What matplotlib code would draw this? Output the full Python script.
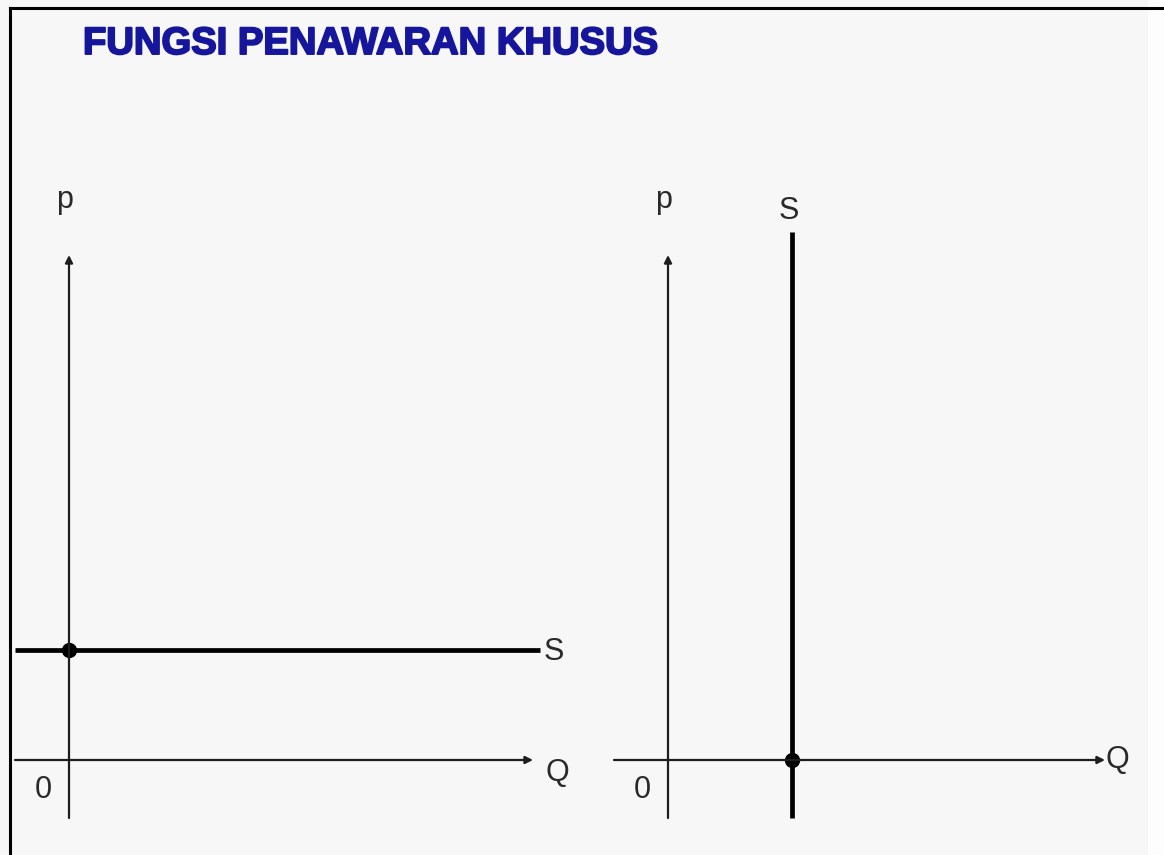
import matplotlib
matplotlib.use("Agg")
import matplotlib.pyplot as plt
from matplotlib.lines import Line2D
from matplotlib.patches import Rectangle
import matplotlib.patheffects as pe

# ---- data ----
title = "FUNGSI PENAWARAN KHUSUS"
axis_labels = {"y": "p", "x": "Q", "origin": "0", "supply": "S"}
# left panel: perfectly elastic supply (horizontal) at price level
left_supply_price = 2.2
left_supply_q_range = [-1.08, 9.42]
# right panel: perfectly inelastic supply (vertical) at quantity level
right_supply_qty = 2.48
right_supply_p_range = [-1.16, 10.56]
# axis extents
left_q_axis = [-1.08, 9.28]
right_q_axis = [-1.08, 8.74]
p_axis = [-1.16, 10.1]

W, H = 1164, 855
fig = plt.figure(figsize=(W / 100, H / 100), dpi=100)
fig.patch.set_facecolor("#fdfdfd")
fig.patches.append(Rectangle((0, 0), 1148 / W, 1, transform=fig.transFigure,
                             facecolor="#f7f7f7", edgecolor="none", zorder=-5))
# frame (top and left edges)
fig.lines.append(Line2D([10.5 / W, 1], [1 - 8 / H, 1 - 8 / H], transform=fig.transFigure,
                        color="black", lw=2.2, zorder=-4))
fig.lines.append(Line2D([10.5 / W, 10.5 / W], [0, 1 - 8 / H], transform=fig.transFigure,
                        color="black", lw=2.2, zorder=-4))

fig.text(83 / W, 1 - 44 / H, title, fontsize=27.5, fontweight="bold",
         color="#16169c", family="Liberation Sans", va="center", ha="left",
         path_effects=[pe.withStroke(linewidth=1.4, foreground="#16169c")])

axis_col = "#1e1e1e"
text_col = "#2a2a2a"
tfs = 22
scale = 50.0  # px per data unit


def make_ax(px0, px1, origin_x):
    py0, py1 = 150, 855
    ax = fig.add_axes([px0 / W, 1 - py1 / H, (px1 - px0) / W, (py1 - py0) / H])
    ax.set_xlim((px0 - origin_x) / scale, (px1 - origin_x) / scale)
    ax.set_ylim((760 - py1) / scale, (760 - py0) / scale)
    ax.axis("off")
    ax.patch.set_alpha(0)
    return ax


def draw_axes(ax, q_axis):
    # vertical price axis with arrow
    ax.annotate("", xy=(0, p_axis[1]), xytext=(0, p_axis[0]),
                arrowprops=dict(arrowstyle="-|>", lw=1.6, color=axis_col,
                                mutation_scale=11, shrinkA=0, shrinkB=0))
    ax.annotate("", xy=(q_axis[1], 0), xytext=(q_axis[0], 0),
                arrowprops=dict(arrowstyle="-|>", lw=1.6, color=axis_col,
                                mutation_scale=11, shrinkA=0, shrinkB=0))
    ax.text(-0.52, -0.6, axis_labels["origin"], fontsize=tfs, color=text_col,
            ha="center", va="center", family="Liberation Sans")
    ax.text(-0.08, p_axis[1] + 1.1, axis_labels["y"], fontsize=tfs, color=text_col,
            ha="center", va="center", family="Liberation Sans")


# left panel
axL = make_ax(0, 600, 69)
draw_axes(axL, left_q_axis)
axL.plot(left_supply_q_range, [left_supply_price, left_supply_price],
         color="black", lw=3.4, solid_capstyle="butt")
axL.plot([0], [left_supply_price], "o", color="black", ms=10)
axL.text(left_supply_q_range[1] + 0.28, left_supply_price - 0.05, axis_labels["supply"],
         fontsize=tfs, color=text_col, ha="center", va="center", family="Liberation Sans")
axL.text(left_q_axis[1] + 0.48, -0.26, axis_labels["x"], fontsize=tfs, color=text_col,
         ha="center", va="center", family="Liberation Sans")

# right panel
axR = make_ax(600, 1164, 668)
draw_axes(axR, right_q_axis)
axR.plot([right_supply_qty, right_supply_qty], right_supply_p_range,
         color="black", lw=3.4, solid_capstyle="butt")
axR.plot([right_supply_qty], [0], "o", color="black", ms=10)
axR.text(right_supply_qty - 0.06, right_supply_p_range[1] + 0.42, axis_labels["supply"],
         fontsize=tfs, color=text_col, ha="center", va="center", family="Liberation Sans")
axR.text(right_q_axis[1] + 0.25, 0.0, axis_labels["x"], fontsize=tfs, color=text_col,
         ha="center", va="center", family="Liberation Sans")

fig.savefig("out.png", dpi=100, facecolor=fig.get_facecolor())
